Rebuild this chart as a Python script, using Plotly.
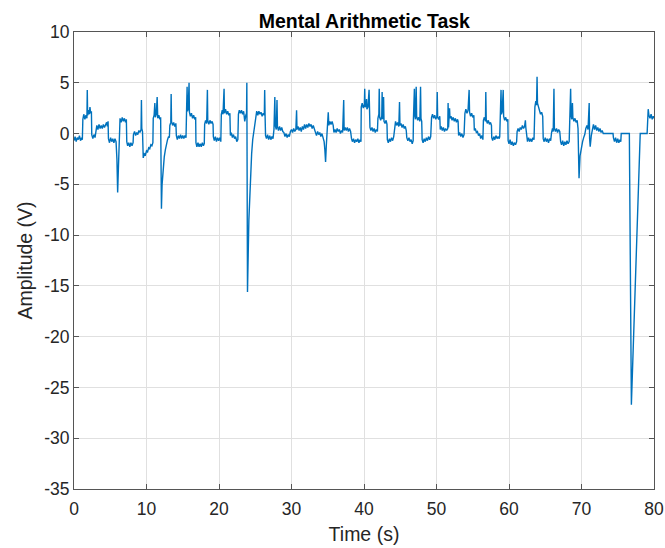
import plotly.graph_objects as go

# ---- Data (time in s, amplitude in V) ----
t_00_20 = [0.0, 0.15, 0.3, 0.45, 0.6, 0.75, 0.9, 1.05, 1.15, 1.22, 1.35, 1.5, 1.65, 1.78, 1.83, 1.88,
           2.0, 2.1, 2.2, 2.3, 2.4, 2.45, 2.6, 2.75, 2.9, 3.0, 3.15, 3.3, 3.45, 3.6, 3.75, 3.9,
           4.05, 4.2, 4.35, 4.5, 4.6, 4.7, 4.75, 4.9, 5.05, 5.2, 5.35, 5.5, 5.65, 5.8, 5.92, 6.02,
           6.12, 6.25, 6.35, 6.5, 6.65, 6.8, 6.95, 7.1, 7.22, 7.28, 7.4, 7.55, 7.7, 7.85, 8.0, 8.15,
           8.2, 8.35, 8.5, 8.65, 8.8, 8.95, 9.1, 9.25, 9.3, 9.35, 9.45, 9.55, 9.7, 9.85, 10.0, 10.15,
           10.3, 10.45, 10.6, 10.75, 10.88, 10.93, 11.05, 11.15, 11.22, 11.35, 11.47, 11.55, 11.7, 11.85, 11.95, 12.0,
           12.06, 12.15, 12.3, 12.45, 12.6, 12.75, 12.9, 13.05, 13.15, 13.22, 13.35, 13.4, 13.45, 13.6, 13.75, 13.9,
           14.05, 14.12, 14.25, 14.4, 14.55, 14.7, 14.85, 15.0, 15.15, 15.3, 15.45, 15.52, 15.6, 15.65, 15.75, 15.87,
           15.92, 16.05, 16.2, 16.35, 16.5, 16.65, 16.78, 16.82, 16.95, 17.1, 17.25, 17.4, 17.55, 17.7, 17.85, 17.97,
           18.02, 18.15, 18.3, 18.4, 18.45, 18.6, 18.75, 18.9, 19.05, 19.18, 19.22, 19.35, 19.5, 19.65, 19.8, 19.95]
v_00_20 = [-0.7, -0.3, -0.8, -0.4, -0.6, -0.2, -0.7, -0.4, -0.6, 1.4, 1.9, 1.4, 1.8, 1.5, 4.3, 1.8,
           2.3, 1.9, 2.6, 2.0, 2.2, -0.1, -0.5, -0.1, -0.4, 0.4, 0.8, 0.4, 0.9, 0.5, 0.8, 0.5,
           0.9, 0.6, 0.9, 1.1, 0.7, 1.2, -0.5, -0.9, -0.4, -0.8, -0.5, -0.9, -0.5, -0.8, -2.5, -5.8,
           -3.5, 0.8, 1.5, 1.1, 1.6, 1.2, 1.5, 1.1, 1.4, -0.8, -1.2, -0.9, -1.3, -0.9, -1.2, -0.9,
           -0.1, 0.2, -0.2, 0.1, -0.1, 0.3, 0.1, 0.4, 3.3, 0.5, 0.2, -2.4, -2.0, -2.1, -1.7, -1.8,
           -1.4, -1.5, -1.1, -1.2, -0.9, 1.5, 1.8, 3.0, 1.6, 1.9, 3.6, 1.5, 1.8, 1.4, 1.6, -2.0,
           -7.4, -5.0, -3.2, -2.3, -1.6, -0.9, -0.6, -0.3, -0.4, 0.8, 1.1, 3.9, 1.2, 0.8, 1.1, 0.7,
           1.0, -0.2, -0.6, -0.2, -0.5, -0.1, -0.5, -0.2, -0.5, -0.2, -0.4, 2.0, 4.6, 2.2, 2.4, 5.0,
           2.1, 1.7, 2.0, 1.5, 1.8, 1.4, 1.6, -0.9, -1.3, -0.9, -1.3, -1.0, -1.3, -0.9, -1.2, -1.0,
           0.9, 1.3, 1.0, 4.3, 1.3, 0.9, 1.3, 1.0, 1.2, 0.9, -0.3, -0.7, -0.3, -0.8, -0.4, -0.7]

t_20_40 = [20.1, 20.25, 20.32, 20.45, 20.55, 20.7, 20.75, 20.9, 21.05, 21.2, 21.35, 21.5, 21.57, 21.7, 21.85, 22.0,
           22.15, 22.3, 22.45, 22.6, 22.68, 22.8, 22.95, 23.1, 23.25, 23.4, 23.55, 23.7, 23.8, 23.84, 23.88, 23.93,
           24.12, 24.3, 24.5, 24.65, 24.85, 25.05, 25.2, 25.35, 25.5, 25.65, 25.8, 25.95, 26.1, 26.25, 26.3, 26.36,
           26.42, 26.55, 26.7, 26.85, 27.0, 27.15, 27.3, 27.45, 27.58, 27.7, 27.76, 27.9, 28.0, 28.06, 28.2, 28.35,
           28.5, 28.65, 28.8, 28.95, 29.1, 29.25, 29.4, 29.55, 29.7, 29.85, 30.0, 30.15, 30.3, 30.45, 30.6, 30.7,
           30.76, 30.9, 31.05, 31.2, 31.35, 31.5, 31.65, 31.8, 31.95, 32.1, 32.25, 32.4, 32.55, 32.7, 32.85, 33.0,
           33.15, 33.3, 33.45, 33.6, 33.75, 33.9, 34.05, 34.2, 34.35, 34.5, 34.6, 34.7, 34.8, 34.92, 35.0, 35.07,
           35.15, 35.3, 35.45, 35.6, 35.75, 35.85, 36.0, 36.15, 36.3, 36.45, 36.6, 36.75, 36.9, 37.05, 37.2, 37.26,
           37.4, 37.55, 37.7, 37.85, 38.0, 38.15, 38.28, 38.4, 38.55, 38.7, 38.85, 39.0, 39.15, 39.3, 39.45, 39.58]
v_20_40 = [-0.4, -0.8, 1.9, 2.3, 1.9, 4.4, 2.0, 2.4, 1.9, 2.2, 1.8, 2.0, -0.2, 0.1, -0.4, -0.1,
           -0.5, -0.3, -0.8, -0.6, 1.9, 2.3, 2.0, 2.3, 1.9, 2.2, 1.2, 1.8, 2.0, 5.0, 0.0, -15.6,
           -8.5, -4.5, -2.0, -0.6, 0.5, 1.3, 2.2, 1.8, 2.2, 1.9, 2.1, 1.7, 2.0, 1.8, 4.3, 1.6,
           -0.2, -0.5, -0.1, -0.6, -0.2, -0.6, -0.3, -0.5, 0.4, 3.6, 0.8, 0.4, 3.3, 0.7, 0.3, 0.7,
           0.3, 0.6, 0.2, 0.1, -0.3, 0.0, -0.4, -0.1, -0.3, 0.2, 0.4, 0.1, 0.5, 0.2, 0.4, 2.3,
           0.4, 0.7, 0.3, 0.6, 0.2, 0.7, 0.4, 0.9, 0.5, 0.9, 0.6, 1.0, 0.7, 0.9, 0.5, 0.8,
           0.4, 0.1, -0.2, 0.2, -0.1, 0.1, -0.3, 0.0, -0.4, -0.8, -1.6, -2.8, -1.2, 0.0, 1.0, 2.1,
           0.8, 1.2, 0.9, 1.2, 0.8, 0.1, 0.4, 0.1, 0.5, 0.2, 0.4, 0.0, 0.3, 0.1, 3.3, 0.3,
           0.6, 0.3, 0.6, 0.2, 0.5, 0.2, -0.5, -0.8, -0.5, -0.9, -0.6, -0.8, -0.5, -0.9, -0.6, -0.8]

t_40_60 = [39.62, 39.75, 39.9, 40.05, 40.1, 40.15, 40.3, 40.35, 40.4, 40.55, 40.7, 40.76, 40.82, 40.95, 41.1, 41.25,
           41.4, 41.55, 41.7, 41.85, 41.92, 42.05, 42.1, 42.16, 42.3, 42.45, 42.5, 42.56, 42.7, 42.76, 42.9, 43.05,
           43.17, 43.22, 43.35, 43.5, 43.65, 43.8, 43.95, 44.1, 44.22, 44.35, 44.5, 44.65, 44.8, 44.9, 44.96, 45.1,
           45.25, 45.4, 45.55, 45.7, 45.83, 45.9, 46.05, 46.2, 46.35, 46.5, 46.65, 46.78, 46.82, 46.95, 47.0, 47.1,
           47.2, 47.26, 47.4, 47.55, 47.7, 47.8, 47.86, 47.96, 48.02, 48.15, 48.3, 48.45, 48.6, 48.75, 48.9, 49.05,
           49.2, 49.32, 49.45, 49.6, 49.75, 49.9, 50.05, 50.1, 50.16, 50.3, 50.45, 50.52, 50.65, 50.8, 50.95, 51.1,
           51.25, 51.4, 51.55, 51.6, 51.66, 51.72, 51.8, 51.86, 52.0, 52.15, 52.3, 52.45, 52.6, 52.75, 52.9, 52.98,
           53.05, 53.2, 53.35, 53.5, 53.65, 53.8, 53.92, 54.05, 54.2, 54.35, 54.5, 54.56, 54.7, 54.85, 55.0, 55.15,
           55.22, 55.35, 55.5, 55.65, 55.8, 55.95, 56.1, 56.25, 56.4, 56.47, 56.6, 56.75, 56.8, 56.86, 57.0, 57.15,
           57.3, 57.45, 57.58, 57.62, 57.75, 57.9, 58.05, 58.2, 58.35, 58.5, 58.65, 58.72]
v_40_60 = [2.6, 3.0, 2.5, 2.9, 4.4, 2.6, 2.9, 3.4, 2.4, 2.6, 4.3, 2.3, 0.6, 0.3, 0.6, 0.2,
           0.5, 0.1, 0.4, 0.2, 1.5, 1.9, 4.4, 1.6, 1.3, 1.7, 4.1, 1.4, 3.6, 1.2, 1.0, 1.3,
           0.9, -0.6, -0.9, -0.5, -0.8, -0.4, -0.7, -0.3, 0.9, 1.2, 0.8, 1.1, 0.7, 3.1, 0.8, 1.0,
           0.6, 0.9, 0.5, 0.7, 0.3, -0.4, -0.7, -0.4, -0.8, -0.6, -1.0, -0.7, 1.5, 4.4, 1.8, 1.4,
           4.6, 1.7, 1.3, 1.6, 1.2, 4.6, 1.5, 1.2, -0.6, -0.9, -0.5, -0.8, -0.4, -0.7, -0.3, -0.6,
           -0.3, 1.6, 1.9, 1.5, 1.8, 1.4, 1.7, 4.1, 1.6, 1.4, 1.7, 0.4, 0.7, 0.3, 0.6, 0.2,
           0.5, 0.3, 0.5, 3.0, 0.6, 1.4, 2.5, 1.5, 1.7, 1.3, 1.6, 1.2, 1.5, 1.1, 1.4, 1.2,
           -0.2, 0.1, -0.3, 0.0, -0.4, -0.1, 2.0, 2.4, 2.0, 2.3, 4.3, 2.1, 1.7, 2.0, 1.6, 1.8,
           0.3, 0.5, 0.1, 0.2, -0.2, 0.0, -0.5, -0.2, -0.6, 1.3, 1.6, 1.2, 4.1, 1.4, 1.0, 1.3,
           0.9, 1.1, 0.8, -0.4, -0.7, -0.3, -0.6, -0.2, -0.5, -0.3, -0.5, -0.3]

t_60_80 = [58.77, 58.85, 58.9, 58.96, 59.05, 59.2, 59.26, 59.4, 59.55, 59.7, 59.84, 59.88, 60.0, 60.15, 60.3, 60.45,
           60.6, 60.75, 60.9, 61.05, 61.12, 61.25, 61.4, 61.55, 61.7, 61.85, 62.0, 62.15, 62.26, 62.32, 62.42, 62.55,
           62.7, 62.85, 63.0, 63.15, 63.3, 63.45, 63.57, 63.7, 63.8, 63.87, 63.93, 64.05, 64.2, 64.35, 64.5, 64.65,
           64.72, 64.85, 65.0, 65.15, 65.3, 65.45, 65.6, 65.75, 65.87, 66.0, 66.1, 66.2, 66.26, 66.4, 66.55, 66.7,
           66.85, 67.0, 67.12, 67.25, 67.4, 67.55, 67.7, 67.85, 68.0, 68.15, 68.3, 68.42, 68.5, 68.56, 68.65, 68.75,
           68.81, 68.95, 69.1, 69.25, 69.4, 69.52, 69.6, 69.66, 69.8, 69.97, 70.15, 70.3, 70.45, 70.6, 70.75, 70.9,
           71.06, 71.12, 71.2, 71.35, 71.5, 71.65, 71.8, 71.95, 72.1, 72.25, 72.4, 72.55, 72.7, 72.85, 73.0, 73.2,
           74.35, 74.4, 74.55, 74.7, 74.85, 75.0, 75.15, 75.3, 75.42, 75.48, 76.6, 76.88, 78.1, 79.05, 79.1, 79.2,
           79.3, 79.45, 79.6, 79.75, 79.9, 80.0]
v_60_80 = [1.9, 2.2, 4.3, 1.9, 2.1, 4.3, 1.7, 1.3, 1.6, 1.2, 1.4, -0.7, -1.0, -0.6, -1.1, -0.8,
           -1.2, -0.9, -1.1, -0.8, 0.2, 0.5, 0.2, 0.6, 0.4, 0.8, 0.5, 0.7, 1.3, 0.6, -0.5, -0.8,
           -0.4, -0.8, -0.5, -0.8, -0.4, -0.6, 2.6, 3.2, 2.8, 5.6, 3.0, 2.6, 2.3, 1.9, 2.1, 1.7,
           -0.5, -0.8, -0.4, -0.8, -0.5, -0.9, -0.5, -0.7, 0.1, 0.5, 0.2, 4.4, 0.5, 0.2, 0.5, 0.1,
           0.4, 0.2, -0.8, -1.1, -0.7, -1.2, -0.8, -1.1, -0.7, -1.0, -0.8, 1.5, 4.4, 1.8, 1.4, 3.0,
           1.6, 1.2, 1.5, 1.1, 1.3, 0.5, -2.0, -4.4, -2.2, -1.3, -0.8, -0.4, -0.1, 0.5, 0.8, 0.4,
           3.0, -0.5, -1.3, -0.2, 0.5, 0.9, 0.4, 0.8, 0.3, 0.6, 0.2, 0.5, 0.1, 0.3, 0.0, 0.0,
           0.0, -0.4, -0.8, -0.4, -0.9, -0.5, -0.9, -0.6, -0.8, 0.0, 0.0, -26.7, 0.0, 0.0, 2.0, 2.4,
           1.8, 1.5, 1.9, 1.4, 1.7, 1.5]

x_ticks = [0, 10, 20, 30, 40, 50, 60, 70, 80]
y_ticks = [10, 5, 0, -5, -10, -15, -20, -25, -30, -35]

time_s = t_00_20 + t_20_40 + t_40_60 + t_60_80
amplitude_v = v_00_20 + v_20_40 + v_40_60 + v_60_80

W, H = 665, 548
L, R, T, B = 74.3, 10.7, 32.0, 59.0
TXT = "#262626"
AXC = "#555555"
GRID = "#e0e0e0"
FONT = "Liberation Sans, Arial, Helvetica, sans-serif"

fig = go.Figure(
    go.Scatter(x=time_s, y=amplitude_v, mode="lines",
               line=dict(color="#0072BD", width=1.4), showlegend=False,
               hoverinfo="skip")
)

axis_common = dict(
    showline=True, linecolor=AXC, linewidth=1, mirror="ticks",
    ticks="inside", ticklen=5, tickwidth=1, tickcolor=AXC,
    showgrid=True, gridcolor=GRID, gridwidth=1, zeroline=False,
    automargin=False, ticklabeloverflow="allow",
    tickfont=dict(family=FONT, size=17.5, color=TXT),
)

fig.update_layout(
    width=W, height=H,
    margin=dict(l=L, r=R, t=T, b=B, pad=0, autoexpand=False),
    paper_bgcolor="white", plot_bgcolor="white",
    hovermode=False,
    title=dict(text="<b>Mental Arithmetic Task</b>", x=(L + (W - R - L) / 2) / W, xref="container",
               y=1 - 21 / H, yref="container", xanchor="center", yanchor="middle",
               font=dict(family=FONT, size=19.5, color="black")),
    xaxis=dict(range=[0, 80], tickvals=x_ticks, ticktext=[str(v) for v in x_ticks],
               ticklabelstandoff=4,
               title=dict(text="Time (s)", font=dict(family=FONT, size=19.5, color=TXT), standoff=9),
               **axis_common),
    yaxis=dict(range=[-35, 10], tickvals=y_ticks, ticktext=[str(v) for v in y_ticks],
               title=dict(text="Amplitude (V)", font=dict(family=FONT, size=19.5, color=TXT), standoff=6),
               **axis_common),
)

# Remove the browser's default 8px body margin so the figure fills the window.
fig.write_html("out.html", config={"displayModeBar": False, "staticPlot": True},
               post_script="document.body.style.margin='0';")
